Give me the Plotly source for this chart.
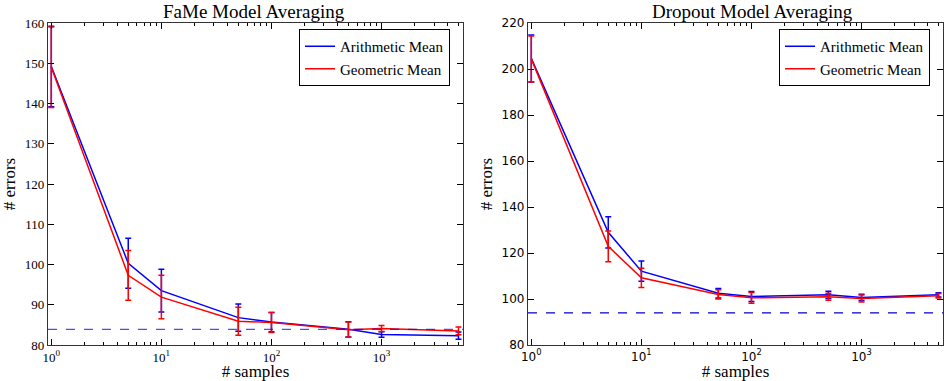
import plotly.graph_objects as go

samples = [1, 5, 10, 50, 100, 500, 1000, 5000]

fame_arith = [149.2, 100.3, 93.5, 86.8, 85.7, 83.9, 82.6, 82.3]
fame_arith_err = [10.0, 6.2, 5.3, 3.4, 2.4, 1.9, 0.7, 0.9]
fame_geo = [149.0, 97.3, 91.9, 85.9, 85.6, 83.8, 84.1, 83.5]
fame_geo_err = [10.0, 6.2, 5.4, 3.5, 2.5, 1.9, 0.75, 0.95]
fame_baseline = 83.9

drop_arith = [204.6, 129.0, 112.1, 102.5, 101.1, 101.8, 100.7, 101.8]
drop_arith_err = [10.2, 6.8, 4.4, 2.1, 2.2, 1.6, 1.4, 0.9]
drop_geo = [204.4, 122.9, 109.2, 102.0, 100.5, 101.0, 100.2, 101.4]
drop_geo_err = [10.0, 6.7, 4.2, 2.0, 2.3, 1.5, 1.5, 1.0]
drop_baseline = 94.0

tick_vals = [1, 10, 100, 1000]
tick_text = ["10<sup>0</sup>", "10<sup>1</sup>", "10<sup>2</sup>", "10<sup>3</sup>"]
minor_vals = [m * d for d in (1, 10, 100, 1000) for m in range(2, 10)]

titles = ["FaMe Model Averaging", "Dropout Model Averaging"]
names = ["Arithmetic Mean", "Geometric Mean"]
BLUE = "#0000ff"
RED = "#ff0000"
SERIF = "Liberation Serif"

fig = go.Figure()

def add_series(xa, ya, y, err, name, color, legend):
    fig.add_trace(go.Scatter(
        x=samples, y=y, mode="lines", name=name, xaxis=xa, yaxis=ya,
        line=dict(color=color, width=1.5), legend=legend,
        error_y=dict(type="data", array=err, visible=True, color=color,
                     thickness=1.5, width=3),
    ))

add_series("x", "y", fame_arith, fame_arith_err, names[0], BLUE, "legend")
add_series("x", "y", fame_geo, fame_geo_err, names[1], RED, "legend")
add_series("x2", "y2", drop_arith, drop_arith_err, names[0], BLUE, "legend2")
add_series("x2", "y2", drop_geo, drop_geo_err, names[1], RED, "legend2")

fig.add_shape(type="line", xref="x domain", yref="y", x0=0, x1=1,
              y0=fame_baseline, y1=fame_baseline,
              line=dict(color="rgba(0,0,255,0.7)", width=1.3, dash="dash"))
fig.add_shape(type="line", xref="x2 domain", yref="y2", x0=0, x1=1,
              y0=drop_baseline, y1=drop_baseline,
              line=dict(color="#0000cc", width=1.3, dash="dash"))

W, H = 946, 381
def px(v): return v / W
def py(v): return 1 - v / H

common_x = dict(
    type="log", range=[-0.03, 3.74], tickmode="array", tickvals=tick_vals, ticktext=tick_text,
    ticks="inside", ticklen=6, tickcolor="black", showline=True, linecolor="#333",
    linewidth=1.2, mirror="allticks", showgrid=False, zeroline=False, automargin=False,
    minor=dict(tickmode="array", tickvals=minor_vals, ticks="inside", ticklen=3,
               tickcolor="black", showgrid=False),
    title=dict(text="# samples", font=dict(family=SERIF, size=17, color="black"), standoff=0),
)
common_y = dict(
    ticks="inside", ticklen=6, tickcolor="black", showline=True, linecolor="#333",
    linewidth=1.2, mirror="allticks", showgrid=False, zeroline=False, automargin=False,
    title=dict(text="# errors", font=dict(family=SERIF, size=17, color="black"), standoff=4),
)

legend_common = dict(xanchor="left", yanchor="top", bordercolor="black", borderwidth=1,
                     bgcolor="white", font=dict(family=SERIF, size=15, color="black"),
                     tracegroupgap=0, itemwidth=30)

fig.update_layout(
    width=W, height=H,
    margin=dict(l=0, r=0, t=0, b=0, autoexpand=False),
    paper_bgcolor="white", plot_bgcolor="white",
    showlegend=True,
    xaxis=dict(common_x, domain=[px(48), px(463)], anchor="y",
               tickfont=dict(family=SERIF, size=13, color="black")),
    yaxis=dict(common_y, domain=[py(345), py(23)], anchor="x", range=[80, 160],
               dtick=10, tickfont=dict(family=SERIF, size=13, color="black")),
    xaxis2=dict(common_x, domain=[px(528), px(943)], anchor="y2",
                tickfont=dict(family="DejaVu Sans", size=12, color="black")),
    yaxis2=dict(common_y, domain=[py(345), py(23)], anchor="x2", range=[80, 220],
                dtick=20, tickfont=dict(family="DejaVu Sans", size=12, color="black")),
    legend=dict(legend_common, x=px(299), y=py(29)),
    legend2=dict(legend_common, x=px(779), y=py(29)),
    annotations=[
        dict(text=titles[0], x=px(254), y=py(12), xref="paper", yref="paper",
             xanchor="center", yanchor="middle",
             showarrow=False, font=dict(family=SERIF, size=19, color="black")),
        dict(text=titles[1], x=px(752), y=py(12), xref="paper", yref="paper",
             xanchor="center", yanchor="middle",
             showarrow=False, font=dict(family=SERIF, size=19, color="black")),
    ],
)

fig.write_html("out.html", config={"displayModeBar": False},
               post_script="document.body.style.margin='0px';")
